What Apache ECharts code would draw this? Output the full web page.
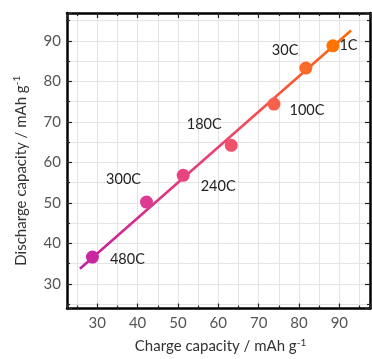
<!DOCTYPE html>
<html>
<head>
<meta charset="utf-8">
<script src="https://cdn.jsdelivr.net/npm/echarts@6/dist/echarts.min.js"></script>
<style>html,body{margin:0;padding:0;background:#fff;}#c{width:372px;height:359px;}</style>
</head>
<body>
<div id="c"></div>
<script>
// Data
var rateLabels = ['1C', '30C', '100C', '180C', '240C', '300C', '480C'];
var chargeCap = [88.4, 81.7, 73.8, 63.2, 51.3, 42.2, 28.8];
var dischargeCap = [88.8, 83.3, 74.4, 64.2, 56.8, 50.2, 36.6];
var pointColors = ['#ff7300', '#fb6a26', '#f6604c', '#ef516a', '#e8447f', '#dc3a93', '#c8279f'];
var fitLineX = [25.7, 92.9];
var fitLineY = [33.7, 92.6];
var xRange = [22.5, 97.6];
var yRange = [23.9, 96.9];

// label placement per point (style only)
var labelPlace = [
  {position: 'right', offset: [-5, 0]},
  {position: 'left', offset: [4, -18]},
  {position: 'right', offset: [4, 6]},
  {position: 'left', offset: [2, -21]},
  {position: 'right', offset: [6, 11]},
  {position: 'left', offset: [6, -23]},
  {position: 'right', offset: [6, 2]}
];

var FONT = 'Lato';
var chart = echarts.init(document.getElementById('c'));

function fmt(v) { return (Math.abs(v % 10) < 1e-6) ? String(v) : ''; }

var scatterData = chargeCap.map(function (x, i) {
  return {
    value: [x, dischargeCap[i]],
    name: rateLabels[i],
    itemStyle: {color: pointColors[i], opacity: 1},
    label: {
      show: true,
      formatter: rateLabels[i],
      position: labelPlace[i].position,
      offset: labelPlace[i].offset,
      color: '#222',
      fontSize: 14.5,
      fontFamily: FONT
    }
  };
});

var lineData = fitLineX.map(function (x, i) { return [x, fitLineY[i]]; });

var gridLine = {show: true, lineStyle: {color: '#e4e4e4', width: 1}};
function xAxisBase(pos, labels) {
  return {
    type: 'value', position: pos, min: xRange[0], max: xRange[1], splitNumber: 7,
    axisLine: {show: true, onZero: false, lineStyle: {color: '#000', width: 2.5}},
    axisTick: {show: true, inside: true, length: 5, lineStyle: {color: '#222', width: 1.2}},
    minorTick: {show: true, splitNumber: 2, length: 3, lineStyle: {color: '#222', width: 1.2}},
    splitLine: labels ? gridLine : {show: false},
    minorSplitLine: labels ? gridLine : {show: false},
    axisLabel: {show: labels, formatter: fmt, showMinLabel: false, showMaxLabel: false,
      color: '#555', fontSize: 15, fontFamily: FONT, margin: 7}
  };
}
function yAxisBase(pos, labels) {
  return {
    type: 'value', position: pos, min: yRange[0], max: yRange[1], splitNumber: 7,
    axisLine: {show: true, onZero: false, lineStyle: {color: '#000', width: 2.5}},
    axisTick: {show: true, inside: true, length: 5, lineStyle: {color: '#222', width: 1.2}},
    minorTick: {show: true, splitNumber: 2, length: 3, lineStyle: {color: '#222', width: 1.2}},
    splitLine: labels ? gridLine : {show: false},
    minorSplitLine: labels ? gridLine : {show: false},
    axisLabel: {show: labels, formatter: fmt, showMinLabel: false, showMaxLabel: false,
      color: '#555', fontSize: 15, fontFamily: FONT, margin: 6}
  };
}

var xa0 = xAxisBase('bottom', true);
xa0.name = 'Charge capacity / mAh g{sup|-1}';
xa0.nameLocation = 'middle';
xa0.nameGap = 29;
xa0.nameTextStyle = {color: '#333', fontSize: 15, fontFamily: FONT, padding: [0, 0, 0, 4],
  rich: {sup: {fontSize: 10, fontFamily: FONT, color: '#333', verticalAlign: 'top', padding: [0, 0, 8, 0]}}};
var ya0 = yAxisBase('left', true);
ya0.name = 'Discharge capacity / mAh g{sup|-1}';
ya0.nameLocation = 'middle';
ya0.nameGap = 37;
ya0.nameTextStyle = {color: '#333', fontSize: 15, fontFamily: FONT, padding: [0, 20, 0, 0],
  rich: {sup: {fontSize: 10, fontFamily: FONT, color: '#333', verticalAlign: 'top', padding: [0, 0, 8, 0]}}};

chart.setOption({
  animation: false,
  backgroundColor: '#fff',
  grid: {left: 67, right: 2, top: 13, bottom: 45},
  xAxis: [xa0, xAxisBase('top', false)],
  yAxis: [ya0, yAxisBase('right', false)],
  series: [
    {
      type: 'line', xAxisIndex: 0, yAxisIndex: 0, data: lineData, symbol: 'none',
      lineStyle: {width: 2.6, color: new echarts.graphic.LinearGradient(0, 1, 1, 0, [
        {offset: 0, color: '#c21fa0'}, {offset: 0.5, color: '#ec4272'}, {offset: 1, color: '#ff6a00'}])},
      z: 2
    },
    {
      type: 'scatter', xAxisIndex: 0, yAxisIndex: 0, symbolSize: 13, data: scatterData, z: 3
    }
  ]
});
</script>
</body>
</html>
